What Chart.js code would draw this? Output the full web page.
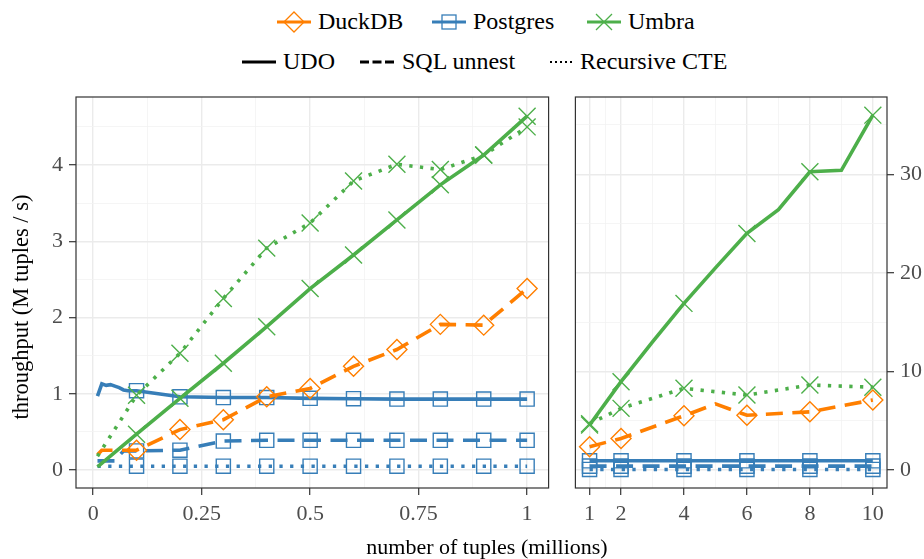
<!DOCTYPE html>
<html>
<head>
<meta charset="utf-8">
<script src="https://cdn.jsdelivr.net/npm/chart.js@4.4.1/dist/chart.umd.min.js"></script>
<style>
  body { margin: 0; background: #fff; }
  #wrap { position: relative; width: 924px; height: 559px; font-family: "Liberation Serif", serif; }
  canvas { position: absolute; top: 0; }
  .lab { position: absolute; white-space: nowrap; color: #000; line-height: 28px; }
  .leg { font-size: 24px; }
  .key { position: absolute; }
</style>
</head>
<body>
<div id="wrap">
  <svg class="key" style="left:276px;top:10px" width="36" height="24">
    <line x1="1" y1="12" x2="35" y2="12" stroke="#ff7f00" stroke-width="3"/>
    <polygon points="8,12 18,2 28,12 18,22" fill="none" stroke="#ff7f00" stroke-width="1.3"/>
  </svg>
  <span class="lab leg" style="left:318px;top:7px">DuckDB</span>
  <svg class="key" style="left:431px;top:10px" width="36" height="24">
    <line x1="1" y1="12" x2="35" y2="12" stroke="#377eb8" stroke-width="3"/>
    <rect x="11" y="5" width="14" height="14" fill="none" stroke="#377eb8" stroke-width="1.3"/>
  </svg>
  <span class="lab leg" style="left:473px;top:7px">Postgres</span>
  <svg class="key" style="left:586px;top:10px" width="36" height="24">
    <line x1="1" y1="12" x2="35" y2="12" stroke="#4daf4a" stroke-width="3"/>
    <line x1="10" y1="4" x2="26" y2="20" stroke="#4daf4a" stroke-width="1.3"/>
    <line x1="10" y1="20" x2="26" y2="4" stroke="#4daf4a" stroke-width="1.3"/>
  </svg>
  <span class="lab leg" style="left:628px;top:7px">Umbra</span>

  <svg class="key" style="left:241px;top:50px" width="36" height="24">
    <line x1="1" y1="12" x2="35" y2="12" stroke="#000" stroke-width="3"/>
  </svg>
  <span class="lab leg" style="left:283px;top:47px">UDO</span>
  <svg class="key" style="left:359px;top:50px" width="36" height="24">
    <line x1="1" y1="12" x2="35" y2="12" stroke="#000" stroke-width="3" stroke-dasharray="9 3.5"/>
  </svg>
  <span class="lab leg" style="left:402px;top:47px">SQL unnest</span>
  <svg class="key" style="left:549px;top:50px" width="28" height="24">
    <line x1="1" y1="12" x2="25" y2="12" stroke="#000" stroke-width="2" stroke-dasharray="2 3"/>
  </svg>
  <span class="lab leg" style="left:580px;top:47px">Recursive CTE</span>

  <canvas id="leftChart" width="562" height="559" style="left:0"></canvas>
  <canvas id="rightChart" width="362" height="559" style="left:562px"></canvas>

  <span class="lab" style="left:287px;width:400px;text-align:center;top:533px;font-size:22px">number of tuples (millions)</span>
  <span class="lab" style="left:-179px;width:400px;text-align:center;top:293px;font-size:22.5px;transform:rotate(-90deg)">throughput (M tuples / s)</span>
</div>
<script>
// x positions (millions of tuples)
const xLeft = [0.01, 0.02, 0.03, 0.04, 0.05, 0.06, 0.07, 0.08, 0.09, 0.1, 0.2, 0.3, 0.4, 0.5, 0.6, 0.7, 0.8, 0.9, 1.0];
const xRight = [1, 2, 3, 4, 5, 6, 7, 8, 9, 10];

// throughput, M tuples / s  (null = no reading, line spans across)
const duckUnnestLeft = [0.20, 0.26, null, null, null, null, null, null, null, 0.26, 0.53, 0.66, 0.96, 1.07, 1.36, 1.58, 1.91, 1.90, 2.38];
const pgUdoLeft = [0.97, 1.13, 1.11, 1.12, 1.10, 1.08, 1.05, 1.04, 1.04, 1.04, 0.96, 0.95, 0.95, 0.94, 0.935, 0.93, 0.93, 0.93, 0.93];
const pgUnnestLeft = [0.12, 0.12, 0.12, 0.12, 0.12, 0.19, 0.25, 0.25, 0.25, 0.25, 0.26, 0.38, 0.39, 0.39, 0.39, 0.39, 0.39, 0.39, 0.39];
const pgCteLeft = [0.05, 0.05, 0.05, 0.05, 0.05, 0.05, 0.05, 0.05, 0.05, 0.05, 0.05, 0.05, 0.05, 0.05, 0.05, 0.05, 0.05, 0.05, 0.05];
const umbraUdoLeft = [0.04, null, null, null, null, null, null, null, null, 0.47, 0.94, 1.40, 1.88, 2.38, 2.82, 3.28, 3.74, 4.13, 4.64];
const umbraCteLeft = [0.18, null, null, null, null, null, null, null, null, 0.98, 1.53, 2.25, 2.91, 3.24, 3.79, 4.01, 3.94, 4.13, 4.50];

const duckUnnestRight = [2.36, 3.2, null, 5.5, 6.7, 5.55, null, 5.9, null, 7.1];
const pgUdoRight = [0.93, 0.93, 0.93, 0.93, 0.93, 0.93, 0.93, 0.93, 0.93, 0.93];
const pgUnnestRight = [0.39, 0.39, 0.39, 0.39, 0.39, 0.39, 0.39, 0.39, 0.39, 0.39];
const pgCteRight = [0.05, 0.05, 0.05, 0.05, 0.05, 0.05, 0.05, 0.05, 0.05, 0.05];
const umbraUdoRight = [4.56, 8.96, 13.0, 16.9, 20.5, 24.0, 26.4, 30.25, 30.4, 36.0];
const umbraCteRight = [4.7, 6.25, null, 8.28, null, 7.6, null, 8.62, null, 8.4];

// axis ticks
const leftXMajor = [0, 0.25, 0.5, 0.75, 1];
const leftXMinor = [0.125, 0.375, 0.625, 0.875];
const leftYMajor = [0, 1, 2, 3, 4];
const leftYMinor = [0.5, 1.5, 2.5, 3.5, 4.5];
const rightXMajor = [1, 2, 4, 6, 8, 10];
const rightXMinor = [1.5, 3, 5, 7, 9];
const rightYMajor = [0, 10, 20, 30];
const rightYMinor = [5, 15, 25, 35];

const markLeft = xLeft.map(x => x >= 0.1);
const markRight = xRight.map(x => x <= 2 || x % 2 === 0);

const ORANGE = '#ff7f00', BLUE = '#377eb8', GREEN = '#4daf4a';
const SOLID = [], DASHED = [17, 9.5], DOTTED = [3.3, 7.4];

function series(xs, ys, marks, color, dash, shape, r) {
  return {
    data: xs.map((x, i) => ({ x: x, y: ys[i] })),
    borderColor: color,
    borderWidth: 3.6,
    borderDash: dash,
    borderCapStyle: 'butt',
    tension: 0,
    spanGaps: true,
    pointStyle: shape,
    pointRadius: marks.map(m => m ? r : 0),
    pointBorderWidth: 1.4,
    pointBorderColor: color,
    pointBackgroundColor: 'rgba(0,0,0,0)'
  };
}

function axis(min, max, majors, minors, extra) {
  const isMajor = c => c.tick && majors.includes(c.tick.value);
  return Object.assign({
    type: 'linear',
    min: min,
    max: max,
    afterBuildTicks: s => {
      s.ticks = majors.concat(minors).sort((a, b) => a - b).map(v => ({ value: v }));
    },
    ticks: {
      autoSkip: false,
      maxRotation: 0,
      padding: 6,
      color: '#4d4d4d',
      font: { family: 'Liberation Serif', size: 22 },
      callback: v => majors.includes(v) ? String(v) : ''
    },
    grid: {
      color: c => isMajor(c) ? '#ebebeb' : '#f3f3f3',
      lineWidth: c => isMajor(c) ? 1.4 : 0.8,
      tickColor: c => isMajor(c) ? '#333333' : 'rgba(0,0,0,0)',
      tickLength: 7,
      tickWidth: 1.2
    },
    border: { display: false }
  }, extra);
}

const panelBox = {
  id: 'panelBox',
  afterDraw(chart) {
    const a = chart.chartArea, ctx = chart.ctx;
    ctx.save();
    ctx.strokeStyle = '#333333';
    ctx.lineWidth = 1.2;
    ctx.strokeRect(a.left, a.top, a.right - a.left, a.bottom - a.top);
    ctx.restore();
  }
};

const common = {
  responsive: false,
  animation: false,
  events: [],
  plugins: { legend: { display: false }, tooltip: { enabled: false } }
};

new Chart(document.getElementById('leftChart'), {
  type: 'line',
  data: {
    datasets: [
      series(xLeft, umbraUdoLeft, markLeft, GREEN, SOLID, 'crossRot', 12),
      series(xLeft, umbraCteLeft, markLeft, GREEN, DOTTED, 'crossRot', 12),
      series(xLeft, duckUnnestLeft, markLeft, ORANGE, DASHED, 'rectRot', 10),
      series(xLeft, pgUdoLeft, markLeft, BLUE, SOLID, 'rect', 10),
      series(xLeft, pgUnnestLeft, markLeft, BLUE, DASHED, 'rect', 10),
      series(xLeft, pgCteLeft, markLeft, BLUE, DOTTED, 'rect', 10)
    ]
  },
  options: Object.assign({}, common, {
    layout: { padding: { top: 97, right: 10, left: 0, bottom: 0 } },
    scales: {
      x: axis(-0.0395, 1.0495, leftXMajor, leftXMinor, { afterFit: s => { s.height = 71; } }),
      y: axis(-0.236, 4.892, leftYMajor, leftYMinor, { afterFit: s => { s.width = 76; } })
    }
  }),
  plugins: [panelBox]
});

new Chart(document.getElementById('rightChart'), {
  type: 'line',
  data: {
    datasets: [
      series(xRight, umbraUdoRight, markRight, GREEN, SOLID, 'crossRot', 12),
      series(xRight, umbraCteRight, markRight, GREEN, DOTTED, 'crossRot', 12),
      series(xRight, duckUnnestRight, markRight, ORANGE, DASHED, 'rectRot', 10),
      series(xRight, pgUdoRight, markRight, BLUE, SOLID, 'rect', 10),
      series(xRight, pgUnnestRight, markRight, BLUE, DASHED, 'rect', 10),
      series(xRight, pgCteRight, markRight, BLUE, DOTTED, 'rect', 10)
    ]
  },
  options: Object.assign({}, common, {
    layout: { padding: { top: 97, right: 0, left: 11, bottom: 0 } },
    scales: {
      x: axis(0.55, 10.45, rightXMajor, rightXMinor, { afterFit: s => { s.height = 71; } }),
      y: axis(-1.83, 37.84, rightYMajor, rightYMinor, { position: 'right', afterFit: s => { s.width = 37; } })
    }
  }),
  plugins: [panelBox]
});
</script>
</body>
</html>
